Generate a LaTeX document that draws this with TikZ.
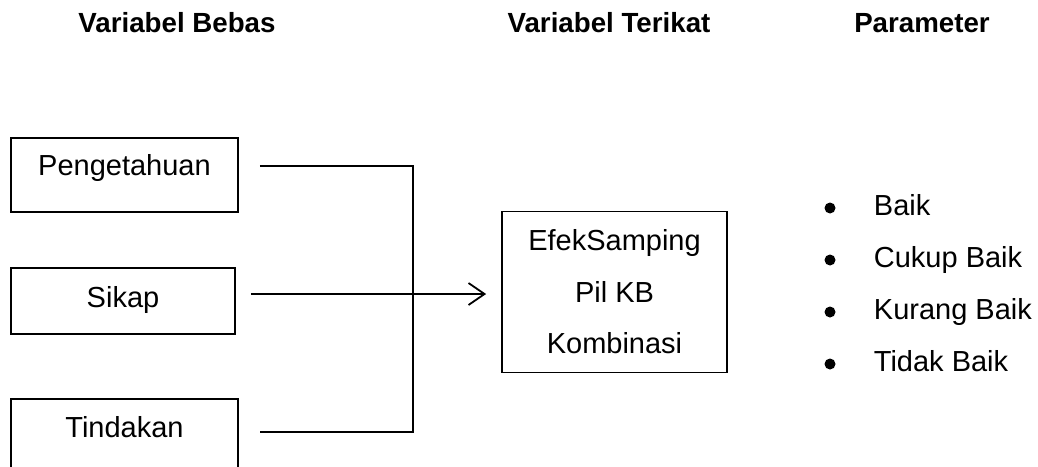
\documentclass[tikz,border=0pt]{standalone}
\usepackage{fontspec}
\setmainfont{Liberation Sans}
\usetikzlibrary{arrows.meta}

\begin{document}
\begin{tikzpicture}[x=1pt, y=-1pt, line width=1.8pt, >={Straight Barb[length=16pt,width=22pt]},
      every node/.append style={font=\fontsize{29}{51.5}\selectfont},
      head/.style={font=\fontsize{27.7}{32}\selectfont\bfseries, anchor=base},
      item/.style={anchor=base west, inner sep=0pt}]
    \tikzstyle{varbox} = [draw, inner sep=0pt, minimum width=227pt, text height=38pt, anchor=base]
    \useasboundingbox (0,0) rectangle (1038,466);
    \clip (0,0) rectangle (1038,466);
    % column titles
    \node (bebas) [head] at (177,32) {Variabel Bebas};
    \node (terikat) [head] at (609,32) {Variabel Terikat};
    \node (param) [head] at (922,32) {Parameter};
    % independent variables
    \node (peng) [varbox, text height=37pt, text depth=37pt] at (124.5,175) {Pengetahuan};
    \node (sikap) [varbox, minimum width=224pt, text height=39pt, text depth=27pt] at (123,307) {Sikap};
    \node (tind) [varbox, text depth=80pt] at (124.5,437) {Tindakan};
    % dependent variable
    \node (efek) [draw, align=center, inner sep=0pt, minimum width=225pt, minimum height=161pt]
      at (614.5,292) {EfekSamping\\Pil KB\\Kombinasi};
    % parameters
    \foreach \txt [count=\i] in {Baik, Cukup Baik, Kurang Baik, Tidak Baik} {
      \node (dot\i) [circle, fill, inner sep=0pt, minimum size=11pt] at (830,156+52*\i) {};
      \node (par\i) [item] at (873,163+52*\i) {\txt};
    }
    % connectors
    \coordinate (jct) at (413,432);
    \draw ([xshift=21pt,yshift=9pt]peng.base east) -| (jct) -- ([xshift=21pt,yshift=5pt]tind.base east);
    \draw[->, shorten >=15pt] ([xshift=15pt,yshift=13pt]sikap.base east) coordinate (sk)
      -- (sk -| efek.west);
\end{tikzpicture}
\end{document}
